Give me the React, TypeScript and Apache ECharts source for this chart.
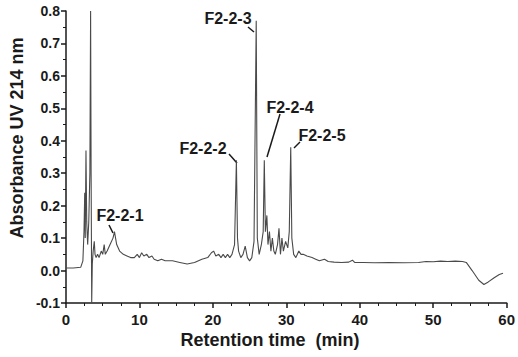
import React, { useEffect, useRef } from "react";
import * as echarts from "echarts";

const times: number[] = [
  0, 1.0, 2.0, 2.3, 2.45, 2.55, 2.62, 2.72, 2.82, 2.95, 3.1, 3.25, 3.35, 3.42, 3.5, 3.58, 3.7, 3.85, 3.95,
  4.1, 4.3, 4.5, 4.8, 5.0, 5.2, 5.35, 5.6, 6.0, 6.4, 6.6, 6.9, 7.3, 7.8, 8.3, 8.8, 9.3, 9.7, 10.0, 10.3,
  10.6, 11.0, 11.3, 11.7, 12.0, 12.5, 13.0, 13.5, 14.5, 15.5, 16.5, 17.5, 18.5, 19.3, 19.8, 20.1, 20.4,
  20.8, 21.1, 21.4, 21.7, 22.0, 22.3, 22.6, 22.95, 23.2, 23.35, 23.5, 23.8, 24.1, 24.4, 24.7, 25.0, 25.3,
  25.6, 25.9, 26.05, 26.3, 26.6, 26.85, 27.0, 27.15, 27.35, 27.5, 27.7, 27.9, 28.1, 28.3, 28.5, 28.8,
  29.0, 29.2, 29.4, 29.6, 29.9, 30.2, 30.4, 30.6, 30.75, 31.0, 31.3, 31.7, 32.0, 32.3, 32.8, 33.5, 34.0,
  34.5, 35.2, 35.7, 36.5, 37.5, 38.5, 39.0, 39.3, 40.5, 42, 44, 46, 48, 49, 50, 51, 52, 53, 54, 54.5,
  55.3, 56.2, 56.9, 57.5, 58.3, 59.0, 59.5,
];

const absorbance: number[] = [
  0.008, 0.008, 0.01, 0.03, 0.12, 0.24, 0.1, 0.37, 0.15, 0.08, 0.15, 0.3, 0.8, 0.3, -0.1, 0.02, 0.06, 0.09, 0.05,
  0.04, 0.05, 0.04, 0.06, 0.05, 0.08, 0.05, 0.06, 0.08, 0.1, 0.12, 0.08, 0.06, 0.05, 0.045, 0.04, 0.04, 0.05, 0.04, 0.055,
  0.045, 0.05, 0.04, 0.045, 0.035, 0.03, 0.035, 0.03, 0.03, 0.025, 0.02, 0.025, 0.035, 0.04, 0.055, 0.06, 0.045,
  0.05, 0.04, 0.05, 0.04, 0.05, 0.04, 0.05, 0.08, 0.34, 0.1, 0.06, 0.04, 0.05, 0.075, 0.04, 0.03, 0.04,
  0.09, 0.77, 0.1, 0.05, 0.08, 0.12, 0.34, 0.12, 0.17, 0.08, 0.12, 0.06, 0.1, 0.06, 0.05, 0.08,
  0.13, 0.05, 0.1, 0.06, 0.09, 0.07, 0.12, 0.38, 0.1, 0.05, 0.04, 0.06, 0.05, 0.05, 0.045, 0.04, 0.035,
  0.03, 0.035, 0.028, 0.026, 0.025, 0.026, 0.032, 0.025, 0.025, 0.024, 0.025, 0.024, 0.025, 0.028, 0.027, 0.029, 0.028, 0.029, 0.028, 0.025,
  0.0, -0.03, -0.043, -0.035, -0.022, -0.012, -0.008,
];

const xTicks = { min: 0, max: 60, interval: 10 };
const yTicks = { min: -0.1, max: 0.8, interval: 0.1 };

const peakLabels: string[] = ["F2-2-1", "F2-2-2", "F2-2-3", "F2-2-4", "F2-2-5"];

const FONT = "Liberation Sans, Arial, Helvetica, sans-serif";
const INK = "#1a1a1a";

export default function App() {
  const ref = useRef<HTMLDivElement>(null);
  useEffect(() => {
    if (!ref.current) return;
    const chart = echarts.init(ref.current, null, { renderer: "svg" });
    const data = times.map((t, i) => [t, absorbance[i]]);
    const labelStyle = (text: string) => ({
      text,
      fill: INK,
      font: `bold 16px ${FONT}`,
      align: "center",
      verticalAlign: "middle",
    });
    const leader = (x1: number, y1: number, x2: number, y2: number) => ({
      type: "line",
      shape: { x1, y1, x2, y2 },
      style: { stroke: INK, lineWidth: 1.5 },
    });
    chart.setOption({
      animation: false,
      backgroundColor: "#ffffff",
      grid: { left: 66, right: 7, top: 11, bottom: 54, containLabel: false },
      xAxis: {
        type: "value",
        min: xTicks.min,
        max: xTicks.max,
        interval: xTicks.interval,
        axisLine: { onZero: false, lineStyle: { color: INK, width: 1.5 } },
        axisTick: { show: true, inside: false, length: 5, lineStyle: { color: INK, width: 1.5 } },
        minorTick: { show: true, splitNumber: 4, length: 3, lineStyle: { color: INK, width: 1 } },
        axisLabel: { color: INK, fontSize: 15, fontWeight: "bold", fontFamily: FONT, margin: 9 },
        splitLine: { show: false },
      },
      yAxis: {
        type: "value",
        min: yTicks.min,
        max: yTicks.max,
        interval: yTicks.interval,
        axisLine: { show: true, onZero: false, lineStyle: { color: INK, width: 1.5 } },
        axisTick: { show: true, inside: false, length: 5, lineStyle: { color: INK, width: 1.5 } },
        minorTick: { show: true, splitNumber: 2, length: 3, lineStyle: { color: INK, width: 1 } },
        axisLabel: {
          color: INK,
          fontSize: 14,
          fontWeight: "bold",
          fontFamily: FONT,
          margin: 6,
          formatter: (v: number) => v.toFixed(1),
        },
        splitLine: { show: false },
      },
      series: [
        {
          type: "line",
          data,
          showSymbol: false,
          symbol: "none",
          lineStyle: { color: "#4a4a4a", width: 1.1 },
          clip: true,
        },
      ],
      graphic: [
        { type: "text", x: 120, y: 215, style: labelStyle(peakLabels[0]) },
        leader(109, 225, 113, 233),
        { type: "text", x: 203, y: 148, style: labelStyle(peakLabels[1]) },
        leader(229, 154, 237, 163),
        { type: "text", x: 228, y: 18, style: labelStyle(peakLabels[2]) },
        leader(248, 27, 254, 32),
        { type: "text", x: 290, y: 107, style: labelStyle(peakLabels[3]) },
        leader(280, 114, 267, 157),
        { type: "text", x: 322, y: 135, style: labelStyle(peakLabels[4]) },
        leader(300, 142, 294, 148),
        {
          type: "text",
          x: 270,
          y: 340,
          style: {
            text: "Retention time  (min)",
            fill: INK,
            font: `bold 18px ${FONT}`,
            align: "center",
            verticalAlign: "middle",
          },
        },
        {
          type: "text",
          x: 17,
          y: 138,
          rotation: Math.PI / 2,
          style: {
            text: "Absorbance UV 214 nm",
            fill: INK,
            font: `bold 18px ${FONT}`,
            align: "center",
            verticalAlign: "middle",
          },
        },
      ],
    });
    return () => chart.dispose();
  }, []);
  return <div ref={ref} style={{ width: 518, height: 357, position: "absolute", left: 0, top: 0 }} />;
}
